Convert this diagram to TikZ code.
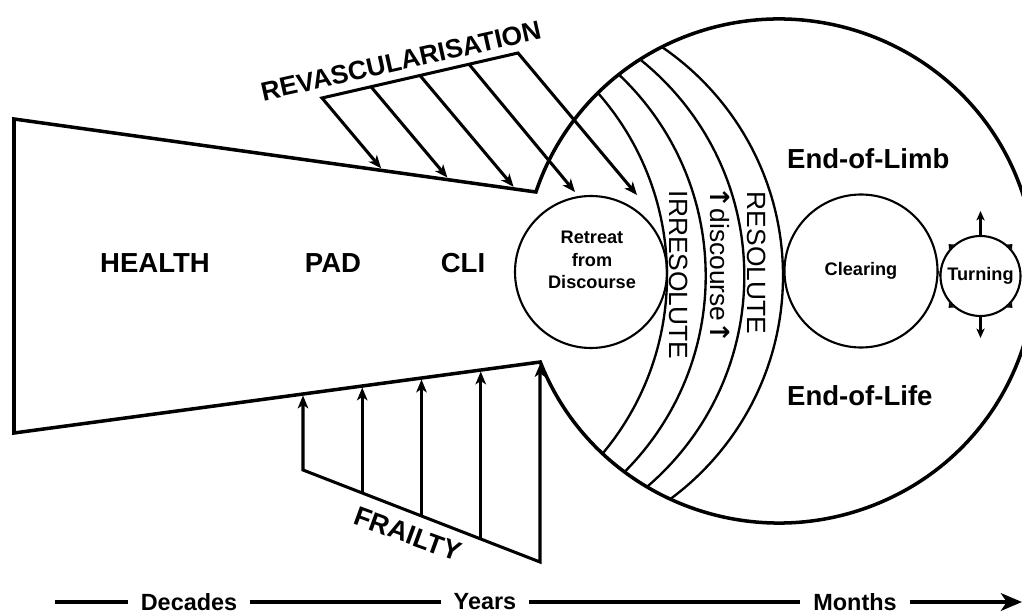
\documentclass[tikz,border=0pt]{standalone}
\usepackage{fontspec}
\setmainfont{Liberation Sans}
\newfontfamily\arrowfont{DejaVu Sans}
\usepackage{tikz}
\usetikzlibrary{arrows,arrows.meta}

\begin{document}
\begin{tikzpicture}[>={Stealth[length=11pt,width=9pt,inset=3pt]},x=0.3mm,y=0.3mm,
  big label/.style={font=\fontsize{23.5}{28}\selectfont\bfseries,inner sep=0pt},
  small label/.style={font=\fontsize{15.5}{19}\selectfont\bfseries,align=center,inner sep=0pt},
  band label/.style={font=\fontsize{22.5}{27}\selectfont,rotate=-90,inner sep=0pt},
  time label/.style={font=\fontsize{20}{24}\selectfont\bfseries,inner xsep=11pt,inner ysep=0pt},
  phase node/.style={circle,draw,line width=1.8pt,inner sep=0pt},
  outline/.style={line width=3pt},
  band/.style={line width=2pt},
  push/.style={->,line width=2.6pt},
  axis/.style={line width=3.4pt}]

  \useasboundingbox (0,0) rectangle (1022,616);

  \coordinate (tipT) at (535.9,424);
  \coordinate (tipB) at (540.3,254);
  \draw[outline] (tipT) -- (14,497) -- (14,183) -- (tipB)
    arc[start angle=201.17,end angle=521.73,x radius=256,y radius=252] -- cycle;

  \begin{scope}
    \clip (779,345) ellipse [x radius=256,y radius=252];
    \foreach \cx in {390,428.7,467.3,506}
      \draw[band] (\cx,340) circle (277);
  \end{scope}

  \node[big label] (health) at (155,353) {HEALTH};
  \node[big label] (pad) at (333,353) {PAD};
  \node[big label] (cli) at (463,353) {CLI};

  \node[phase node,minimum size=45.6mm] (retreat) at (591,344) {};
  \node[small label] (retreat text) at (592,356) {Retreat\\from\\Discourse};
  \node[phase node,small label,minimum size=45.9mm] (clearing) at (861,345) {Clearing};
  \node[phase node,small label,minimum size=24mm] (turning) at (980.5,340) {Turning};

  \draw[line width=1pt] (clearing.east) -- (turning.west);
  \coordinate (turn up) at (980.5,405);
  \coordinate (turn down) at (980.5,278);
  \draw[push,line width=2pt,>={Stealth[length=8pt,width=7pt,inset=2pt]}] (turning.north) -- (turn up);
  \draw[push,line width=2pt,>={Stealth[length=8pt,width=7pt,inset=2pt]}] (turning.south) -- (turn down);
  \foreach \a in {45,135,225,315}
    \fill[shift={(turning.\a)}] (\a:4) -- (\a+90:3.5) -- (\a-90:3.5) -- cycle;

  \node[band label] (irresolute) at (679,341) {IRRESOLUTE};
  \node[band label] (discourse) at (720,351) {{\arrowfont\bfseries ↑}discourse{\arrowfont\bfseries ↑}};
  \node[band label] (resolute) at (757,353) {RESOLUTE};

  \node[big label,anchor=west] (limb) at (787,457) {End-of-Limb};
  \node[big label,anchor=west] (life) at (787,220) {End-of-Life};

  \foreach \i/\sx/\sy/\ex/\ey in {1/322/518/381.1/447.7, 2/371/529.25/447.4/438.4,
      3/420/540.5/513.6/429.2, 4/469/551.75/575/424, 5/518/563/637/421}{
    \coordinate (rv\i) at (\sx,\sy);
    \coordinate (re\i) at (\ex,\ey);
  }
  \draw[push,<->] (re1) -- (rv1) -- (rv5) -- (re5);
  \foreach \i in {2,3,4}
    \draw[push] (rv\i) -- (re\i);
  \node[big label,font=\fontsize{22.5}{27}\selectfont\bfseries,rotate=12.6] (revasc) at (401,555) {REVASCULARISATION};

  \foreach \i/\sx/\sy/\ey in {1/303/146/220.5, 2/362.25/123/228.5, 3/421.5/100/236.5,
      4/480.75/77/244.5, 5/540/54/252}{
    \coordinate (fr\i) at (\sx,\sy);
    \coordinate (fe\i) at (\sx,\ey);
  }
  \draw[push,<->] (fe1) -- (fr1) -- (fr5) -- (fe5);
  \foreach \i in {2,3,4}
    \draw[push] (fr\i) -- (fe\i);
  \node[big label,font=\fontsize{23}{28}\selectfont\bfseries,rotate=-20] (frailty) at (408,82) {FRAILTY};

  \coordinate (ax start) at (55,14);
  \coordinate (ax end) at (1022,14);
  \node[time label] (decades) at (189,14) {Decades};
  \node[time label] (years) at (485,14) {Years};
  \node[time label] (months) at (855,14) {Months};
  \draw[axis] (ax start) -- (decades);
  \draw[axis] (decades) -- (years);
  \draw[axis] (years) -- (months);
  \draw[axis,-{Stealth[length=18pt,width=15pt,inset=5pt]}] (months) -- (ax end);
\end{tikzpicture}
\end{document}
